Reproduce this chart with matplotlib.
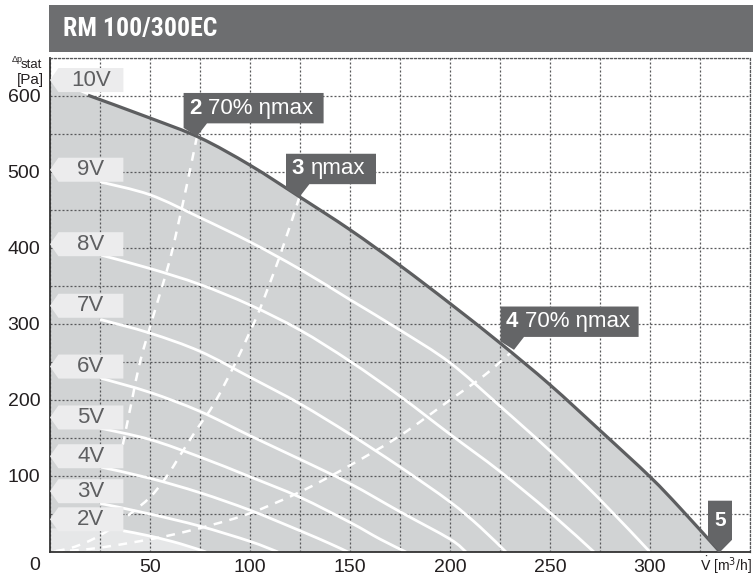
import matplotlib.pyplot as plt
from matplotlib.patches import Polygon, Rectangle, PathPatch
from matplotlib.path import Path

plt.rcParams['font.family'] = ['Liberation Sans', 'DejaVu Sans']

# fan curves: airflow [m3/h] vs static pressure [Pa]
q_10v = [19, 50, 75, 100, 125, 150, 175, 200, 225, 250, 275, 300, 315, 335]
p_10v = [601, 571, 545, 509, 467, 424, 377, 327, 275, 220, 160, 99, 58, 0]

q_9v = [25, 50, 75, 100, 125, 150, 175, 200, 225, 250, 275, 300]
p_9v = [487, 470, 440, 408, 372, 332, 292, 249, 192, 133, 69, 0]
q_8v = [25, 50, 75, 100, 125, 150, 175, 200, 225, 250, 272]
p_8v = [391, 373, 352, 325, 292, 251, 205, 155, 106, 52, 0]
q_7v = [25, 50, 75, 100, 125, 150, 175, 200, 215, 228]
p_7v = [306, 288, 264, 230, 195, 155, 112, 66, 33, 0]
q_6v = [25, 50, 75, 100, 125, 150, 175, 200, 208]
p_6v = [229, 210, 185, 153, 122, 90, 53, 17, 0]
q_5v = [25, 50, 75, 100, 125, 150, 165, 178]
p_5v = [163, 148, 125, 99, 72, 39, 17, 0]
q_4v = [25, 50, 75, 100, 125, 140, 149]
p_4v = [112, 97, 78, 55, 28, 11, 0]
q_3v = [25, 50, 75, 100, 114]
p_3v = [64, 50, 34, 14, 0]
q_2v = [0, 25, 36.5, 50, 65, 78]
p_2v = [31, 31, 28, 21, 11, 0]

# efficiency lines (dashed)
q_eta2 = [73.5, 69, 64, 60, 55, 50, 45, 41, 36]
p_eta2 = [547, 490, 430, 385, 340, 296, 250, 200, 136]
q_eta3 = [124.7, 115, 105, 100, 92, 82, 73, 65, 58, 50, 40, 30, 20, 10, 0]
p_eta3 = [467, 390, 320, 290, 245, 195, 160, 127, 98, 72, 50, 30, 15, 5, 0]
q_eta4 = [232, 217, 200, 175, 150, 125, 100, 80, 60, 40, 20, 0]
p_eta4 = [266, 232, 200, 153, 114, 79, 51, 35, 22, 12, 4, 0]

speed_names = ["10V", "9V", "8V", "7V", "6V", "5V", "4V", "3V", "2V"]
tag_heights = [621, 503, 405, 324, 244, 177, 126, 80, 43]

x_ticks = [50, 100, 150, 200, 250, 300]
y_ticks = [100, 200, 300, 400, 500, 600]


def curve_segments(q, p):
    # smooth cubic pieces through the read points (Catmull-Rom as Bezier)
    pts = list(zip(q, p))
    verts, codes = [], []
    for i in range(len(pts) - 1):
        p0 = pts[i - 1] if i > 0 else pts[i]
        p1, p2 = pts[i], pts[i + 1]
        p3 = pts[i + 2] if i + 2 < len(pts) else pts[i + 1]
        c1 = (p1[0] + (p2[0] - p0[0]) / 6, p1[1] + (p2[1] - p0[1]) / 6)
        c2 = (p2[0] - (p3[0] - p1[0]) / 6, p2[1] - (p3[1] - p1[1]) / 6)
        verts += [c1, c2, p2]
        codes += [Path.CURVE4] * 3
    return verts, codes


def smooth_line(ax, q, p, **kw):
    v, c = curve_segments(q, p)
    path = Path([(q[0], p[0])] + v, [Path.MOVETO] + c)
    ax.add_patch(PathPatch(path, facecolor='none', capstyle='butt', **kw))


W, H = 753, 581
fig = plt.figure(figsize=(W / 100, H / 100), dpi=100)
ax = fig.add_axes([50 / W, 29 / H, 700 / W, 494 / H])
ax.set_xlim(0, 350)
ax.set_ylim(0, 650)

dark = '#5d5e60'
tag_dark = '#646567'

# shaded working area under the 10V curve
v, c = curve_segments(q_10v, p_10v)
area = Path([(0, 0), (0, 621), (q_10v[0], p_10v[0])] + v + [(0, 0)],
            [Path.MOVETO, Path.LINETO, Path.LINETO] + c + [Path.CLOSEPOLY])
ax.add_patch(PathPatch(area, facecolor='#d1d3d4', edgecolor='none', zorder=1))
v, c = curve_segments(q_2v, p_2v)
low = Path([(0, 0), (q_2v[0], p_2v[0])] + v + [(0, 0)],
           [Path.MOVETO, Path.LINETO] + c + [Path.CLOSEPOLY])
ax.add_patch(PathPatch(low, facecolor='#e6e7e8', edgecolor='none', zorder=1.1))

ax.set_xticks(range(0, 351, 25))
ax.set_yticks(range(0, 651, 50))
ax.grid(True, color='#58595b', linewidth=0.9, linestyle=(0, (1.6, 1.6)))
ax.set_axisbelow('line')
ax.set_xticklabels(['' if t not in x_ticks else str(t) for t in range(0, 351, 25)])
ax.set_yticklabels(['' if t not in y_ticks else str(t) for t in range(0, 651, 50)])
ax.tick_params(length=0, labelsize=14, colors='#231f20')
ax.tick_params(axis='x', pad=5)
ax.tick_params(axis='y', pad=7)
for s in ['left', 'bottom']:
    ax.spines[s].set_color('#333333')
    ax.spines[s].set_linewidth(1.3)
for s in ['top', 'right']:
    ax.spines[s].set_color('#58595b')
    ax.spines[s].set_linewidth(0.9)
    ax.spines[s].set_linestyle((0, (1.6, 1.6)))

for q, p in [(q_9v, p_9v), (q_8v, p_8v), (q_7v, p_7v), (q_6v, p_6v),
             (q_5v, p_5v), (q_4v, p_4v), (q_3v, p_3v), (q_2v[2:], p_2v[2:])]:
    smooth_line(ax, q, p, edgecolor='white', linewidth=2, zorder=2)

for q, p in [(q_eta2, p_eta2), (q_eta3, p_eta3), (q_eta4, p_eta4)]:
    smooth_line(ax, q, p, edgecolor='white', linewidth=1.8, linestyle=(0, (3.5, 3)), zorder=2)

smooth_line(ax, q_10v, p_10v, edgecolor=dark, linewidth=2.3, zorder=3)

# voltage tags on the left
for name, pm in zip(speed_names, tag_heights):
    h = 15.8
    pts = [(0, pm), (4.2, pm + h), (36.7, pm + h), (36.7, pm - h), (4.2, pm - h)]
    ax.add_patch(Polygon(pts, closed=True, facecolor='#ececed', edgecolor='none', zorder=4))
    ax.text(20.5, pm, name, ha='center', va='center', fontsize=16, color='#5e5f61', zorder=5)


def dark_tag(tq, tp, num, rest, width):
    x0, y0, h = tq - 6.7, tp + 17, 40
    pts = [(x0, y0 - 6), (x0, y0 + h), (x0 + width, y0 + h), (x0 + width, y0),
           (x0 + 11.7, y0), (tq, tp)]
    ax.add_patch(Polygon(pts, closed=True, facecolor=tag_dark, edgecolor='none', zorder=6))
    ax.text(x0 + 2.7, y0 + h / 2, num, ha='left', va='center', fontsize=16,
            fontweight='bold', color='white', zorder=7)
    ax.text(x0 + 12.3, y0 + h / 2, rest, ha='left', va='center', fontsize=16,
            color='white', zorder=7)


dark_tag(q_eta2[0], p_eta2[0], "2", "70% ηmax", 70)
dark_tag(q_eta3[0], p_eta3[0], "3", "ηmax", 45)
dark_tag(q_eta4[0], p_eta4[0], "4", "70% ηmax", 69)

# tag 5 at the end of the max curve
q5, p5 = q_10v[-1], p_10v[-1]
ax.add_patch(Polygon([(q5 - 6, 16), (q5 - 6, 67.5), (q5 + 6, 67.5), (q5 + 6, 16), (q5, p5)],
                     closed=True, facecolor=tag_dark, edgecolor='none', zorder=6, clip_on=False))
ax.text(q5, 42, "5", ha='center', va='center', fontsize=15, fontweight='bold',
        color='white', zorder=7)

ax.annotate("0", xy=(0, 0), xytext=(-11, -10), textcoords='offset points',
            ha='center', va='center', fontsize=14, color='#231f20', annotation_clip=False)

# title banner
fig.patches.append(Rectangle((49 / W, 1 - 52 / H), 704 / W, 47 / H, transform=fig.transFigure,
                             facecolor='#6d6e70', edgecolor='none'))
fig.text(63 / W, 1 - 29 / H, "RM 100/300EC", color='white', fontsize=18.5, fontweight='bold',
         va='center', ha='left', family=['Roboto Condensed', 'Roboto', 'Liberation Sans'],
         fontstretch='condensed')

# axis labels
fig.text(17 / W, 1 - 60 / H, "Δp", fontsize=6.5, ha='center', va='center', color='#231f20')
fig.text(31.5 / W, 1 - 65 / H, "stat", fontsize=9.5, ha='center', va='center', color='#231f20')
fig.text(30 / W, 1 - 80 / H, "[Pa]", fontsize=11, ha='center', va='center', color='#231f20')
fig.text(752 / W, 1 - 565 / H, r"$\dot{\mathsf{V}}$ [m$^3$/h]", fontsize=10, ha='right',
         va='center', color='#231f20')

fig.savefig('out.png', dpi=100)
